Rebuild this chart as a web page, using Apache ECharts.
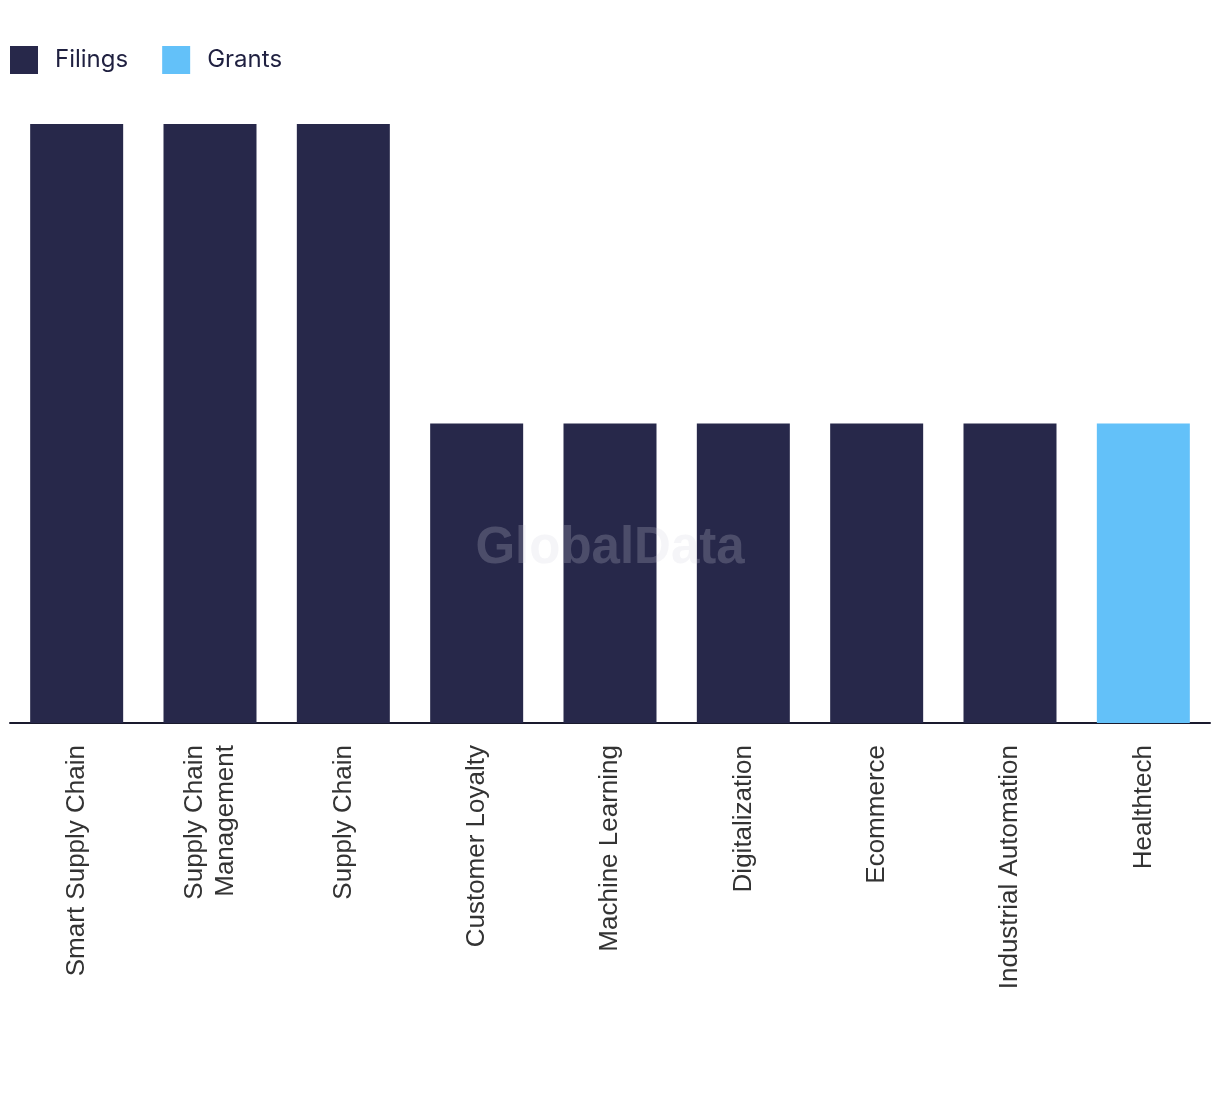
<!DOCTYPE html>
<html>
<head>
<meta charset="utf-8">
<script src="https://cdn.jsdelivr.net/npm/echarts@6/dist/echarts.min.js"></script>
<style>html,body{margin:0;padding:0;background:#fff}#c{width:1220px;height:1094px}</style>
</head>
<body>
<div id="c"></div>
<script>
const categories = ["Smart Supply Chain","Supply Chain\nManagement","Supply Chain","Customer Loyalty","Machine Learning","Digitalization","Ecommerce","Industrial Automation","Healthtech"];
const filings = [2,2,2,1,1,1,1,1,0];
const grants = [0,0,0,0,0,0,0,0,1];

const chart = echarts.init(document.getElementById('c'), null, {renderer:'canvas'});
chart.setOption({
  animation:false,
  backgroundColor:'#fff',
  legend:{
    left:10, top:46, padding:0, itemWidth:28, itemHeight:28, itemGap:34,
    icon:'rect',
    textStyle:{fontFamily:'Inter, "Liberation Sans", sans-serif', fontSize:24, color:'#1f2040', padding:[0,0,0,12]},
    data:['Filings','Grants']
  },
  graphic:[{
    type:'text', left:'center', top:523, z:100,
    style:{text:'GlobalData', font:'bold 51px "Liberation Sans", Arial, sans-serif', fill:'rgba(210,210,225,0.22)'}
  }],
  grid:{left:10,right:10,top:124,bottom:371,containLabel:false},
  xAxis:{
    type:'category', data:categories,
    axisLine:{lineStyle:{color:'#1a1a2e',width:2}},
    axisTick:{show:false},
    axisLabel:{rotate:90, interval:0, margin:22, fontSize:26, lineHeight:31, color:'#333', fontFamily:'"Liberation Sans", Arial, sans-serif'}
  },
  yAxis:{type:'value', min:0, max:2, interval:1, show:false, splitLine:{show:false}},
  series:[
    {name:'Filings', type:'bar', stack:'a', data:filings, barWidth:93, itemStyle:{color:'#27284a'}},
    {name:'Grants', type:'bar', stack:'a', data:grants, barWidth:93, itemStyle:{color:'#63c1f9'}}
  ]
});
</script>
</body>
</html>
